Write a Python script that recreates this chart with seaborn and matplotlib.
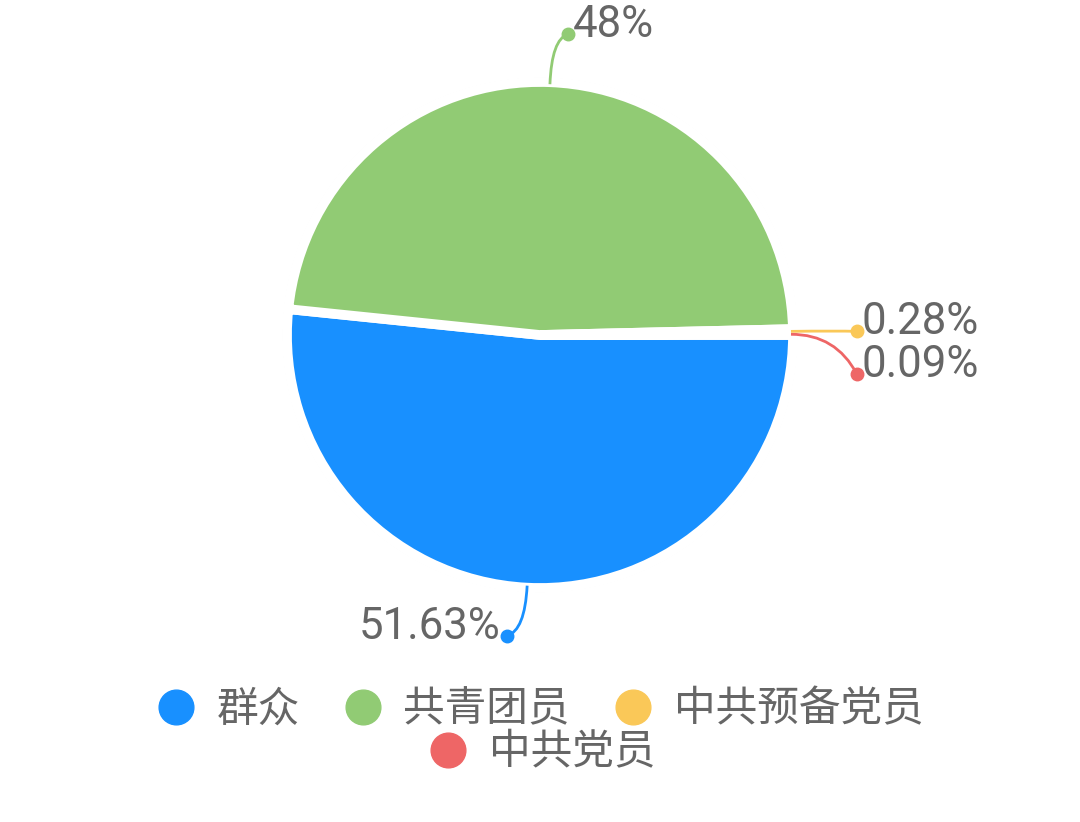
import numpy as np
import matplotlib
matplotlib.use('Agg')
import matplotlib.pyplot as plt
from matplotlib.path import Path
from matplotlib.patches import PathPatch, Circle
from matplotlib.lines import Line2D
import seaborn as sns

# data
categories = ['群众', '共青团员', '中共预备党员', '中共党员']
percents = [51.63, 48.0, 0.28, 0.09]
pct_labels = ['51.63%', '48%', '0.28%', '0.09%']
colors = ['#1890FF', '#91CB74', '#FAC858', '#EE6666']

sns.set_theme(style='white')
plt.rcParams['font.family'] = ['Noto Sans CJK SC', 'DejaVu Sans']

W, H = 1080, 822
fig = plt.figure(figsize=(W / 100, H / 100), dpi=100)
ax = fig.add_axes([0, 0, 1, 1])

# pie geometry in pixel units (y up)
cx, cy = 540, H - 335
r = 253

ax.add_patch(Circle((cx, cy), r + 3, fill=False, ec='#f1f1f1', lw=1.5, zorder=0))
wedges, _ = ax.pie(percents, colors=colors, startangle=0, counterclock=False,
                   center=(cx, cy), radius=r,
                   wedgeprops=dict(edgecolor='white', linewidth=7))

# leader line offsets from the wedge edge to the dot (layout only)
label_offsets = [(-20, -50), (18, 50), (66, 0), (66, -40)]

num_font = ['Roboto', 'DejaVu Sans']
for w, lab, c, (dx, dy) in zip(wedges, pct_labels, colors, label_offsets):
    mid = np.deg2rad((w.theta1 + w.theta2) / 2)
    ux, uy = np.cos(mid), np.sin(mid)
    sx, sy = cx + (r - 2) * ux, cy + (r - 2) * uy
    ex, ey = sx + dx, sy + dy
    L = 45
    ctrl = (sx + L * ux, sy + L * uy)
    path = Path([(sx, sy), ctrl, (ex, ey)], [Path.MOVETO, Path.CURVE3, Path.CURVE3])
    ax.add_patch(PathPatch(path, fill=False, ec=c, lw=2.0, zorder=3))
    ax.plot(ex, ey, 'o', color=c, markersize=9, zorder=4)
    if dx >= 0:
        ax.text(ex + 5, ey - 3, lab, ha='left', va='baseline', fontsize=31.5,
                color='#666666', family=num_font)
    else:
        ax.text(ex - 7, ey - 3, lab, ha='right', va='baseline', fontsize=31.5,
                color='#666666', family=num_font)

ax.set_xlim(0, W)
ax.set_ylim(0, H)
ax.set_aspect('equal')
ax.axis('off')

# legend: round markers, 3 + 1 layout
handles = [Line2D([], [], linestyle='none', marker='o', markersize=25,
                  markerfacecolor=c, markeredgecolor=c) for c in colors]
leg_kw = dict(loc='center', frameon=False, fontsize=30, handlelength=0.84,
              handletextpad=0.55, columnspacing=1.1, labelcolor='#666666',
              borderpad=0, borderaxespad=0)
fig.legend(handles[:3], categories[:3], ncol=3,
           bbox_to_anchor=(541 / W, 1 - 710 / H), **leg_kw)
fig.legend(handles[3:], categories[3:], ncol=1,
           bbox_to_anchor=(543 / W, 1 - 753 / H), **leg_kw)

fig.savefig('out.png', dpi=100)
